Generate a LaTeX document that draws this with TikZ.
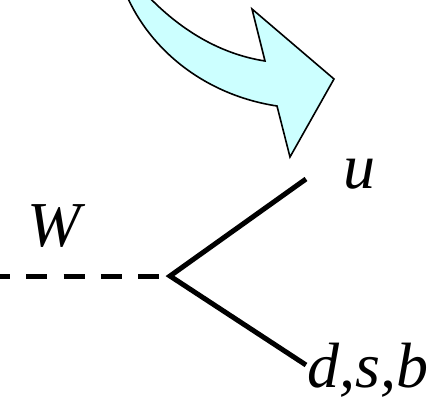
\documentclass[tikz,border=0pt]{standalone}
\usepackage{fontspec}
\setmainfont{Liberation Serif}
\definecolor{arrowfill}{HTML}{CCFFFF}
\tikzset{
  lbl/.style={inner sep=0pt,anchor=base west,font=\fontsize{64}{68}\selectfont\itshape},
  quark/.style={line width=5pt,black},
  boson/.style={line width=5pt,black,dash pattern=on 21pt off 16.3pt,dash phase=11pt},
  bigarrow/.style={draw=black,line width=1.6pt,fill=arrowfill,line join=miter}
}
\begin{document}
\begin{tikzpicture}[x=1pt,y=-1pt]
\useasboundingbox (0,0) rectangle (432,397);
\begin{scope}
\clip (0,0) rectangle (432,397);
\draw[bigarrow] (126,-6) .. controls (150,50) and (205,95) .. (277,106)
  -- (290,157) -- (334,79) -- (252,9) -- (265,61)
  .. controls (220,54) and (180,30) .. (146,-6) -- cycle;
\coordinate (start) at (0,276);
\coordinate (v) at (170,276);
\coordinate (uend) at (306,179);
\coordinate (dend) at (306,365);
\draw[boson] (start) -- (v);
\draw[quark,line join=miter] (uend) -- (v) -- (dend);
\end{scope}
\node[lbl] (wlabel) at (27,246) {W};
\node[lbl] (ulabel) at (343,188) {u};
\node[lbl] (dlabel) at (307,387) {d,s,b};
\end{tikzpicture}
\end{document}
